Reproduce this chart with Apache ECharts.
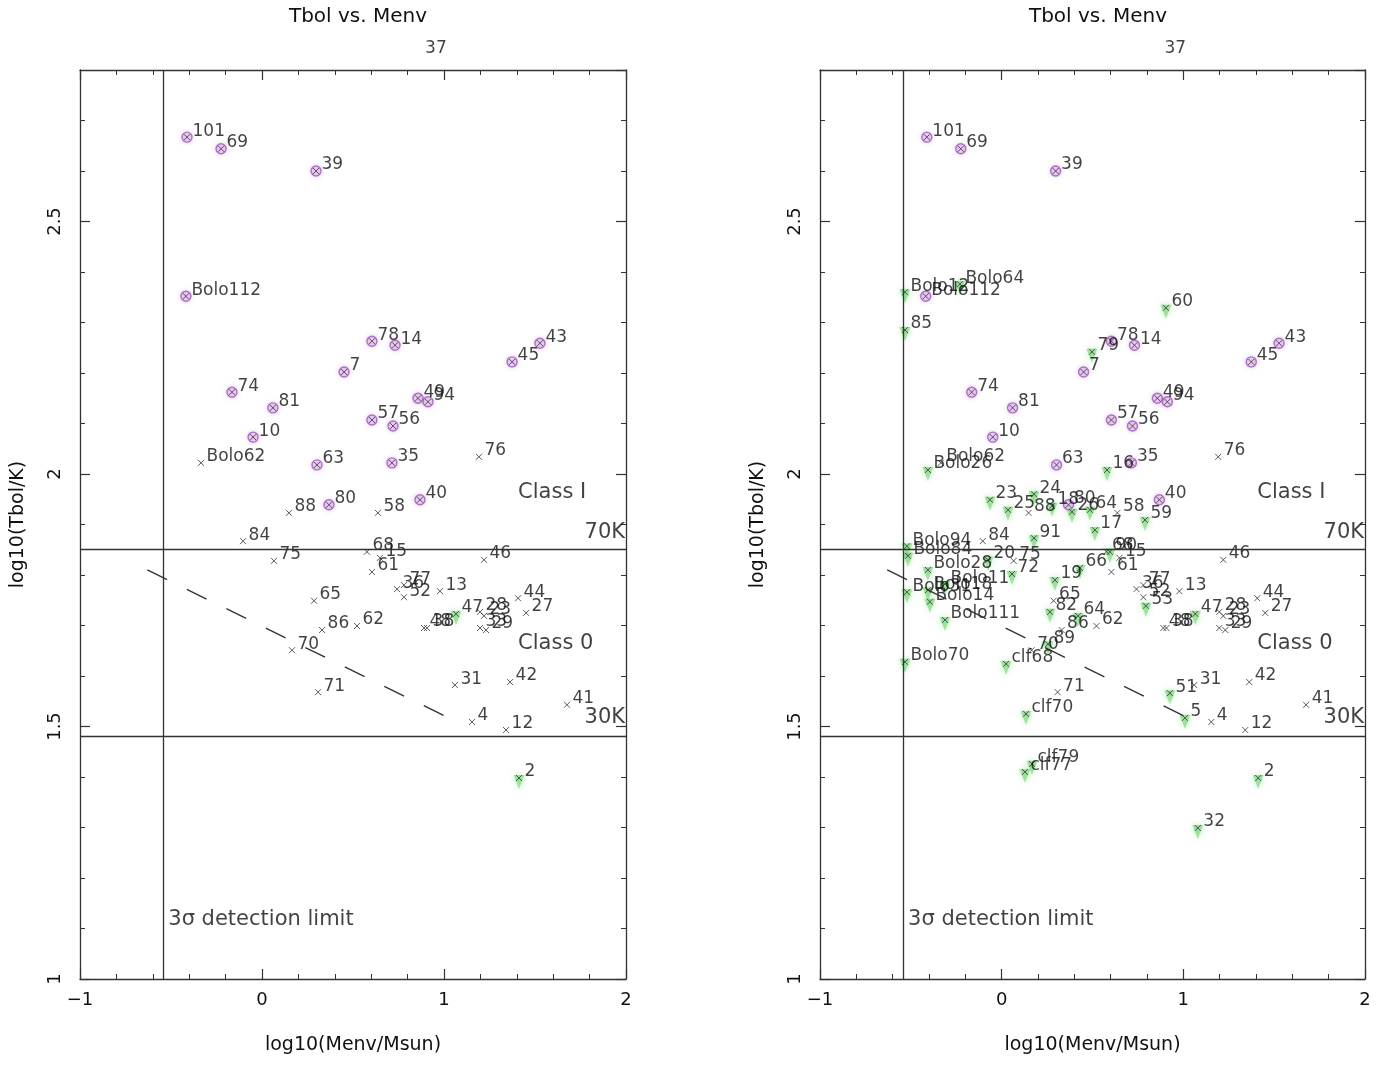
<!DOCTYPE html>
<html>
<head>
<meta charset="utf-8">
<script src="https://cdn.jsdelivr.net/npm/echarts@6/dist/echarts.min.js"></script>
<style>
  html, body { margin: 0; padding: 0; background: #fff; }
  #chart { width: 1395px; height: 1067px; }
</style>
</head>
<body>
<div id="chart"></div>
<script>
// Bolometric temperature vs. envelope mass, two panels.
// kind: 'p' = purple circled source, 'g' = green upper-limit triangle, 'c' = plain cross, 'o' = off-scale (label only)

const PANEL_TITLE = 'Tbol vs. Menv';
const X_NAME = 'log10(Menv/Msun)';
const Y_NAME = 'log10(Tbol/K)';
const X_RANGE = [-1, 2];
const Y_RANGE = [1, 2.8];

// Sources shown in both panels
const BASE_NAME = ['101','69','39','Bolo112','78','14','43','45','7','74','81','49','94','57','56','10',
  '76','Bolo62','63','35','40','80','88','58','84','75','68','15','61','46','36','77','52','13','65','44',
  '47','28','23','27','33','29','86','62','48','38','70','31','42','71','41','4','12','2','37'];
const BASE_X = [-0.412,-0.225,0.297,-0.418,0.604,0.731,1.527,1.374,0.451,-0.165,0.060,0.857,0.912,0.604,0.720,-0.049,
  1.192,-0.335,0.302,0.714,0.868,0.368,0.148,0.637,-0.104,0.066,0.577,0.648,0.604,1.220,0.742,0.780,0.780,0.978,0.286,1.407,
  1.066,1.198,1.220,1.451,1.198,1.231,0.330,0.522,0.890,0.907,0.165,1.060,1.363,0.308,1.676,1.154,1.341,1.412,0.896];
const BASE_Y = [2.667,2.644,2.600,2.352,2.263,2.255,2.259,2.222,2.202,2.162,2.131,2.150,2.143,2.107,2.095,2.073,
  2.034,2.022,2.018,2.022,1.949,1.939,1.923,1.923,1.867,1.828,1.846,1.834,1.806,1.830,1.772,1.780,1.756,1.768,1.749,1.754,
  1.723,1.727,1.719,1.725,1.695,1.691,1.691,1.699,1.695,1.695,1.651,1.582,1.588,1.568,1.543,1.509,1.493,1.398,2.830];
const BASE_KIND = ['p','p','p','p','p','p','p','p','p','p','p','p','p','p','p','p',
  'c','c','p','p','p','p','c','c','c','c','c','c','c','c','c','c','c','c','c','c',
  'g','c','c','c','c','c','c','c','c','c','c','c','c','c','c','c','c','g','o'];

// Additional sources in the right panel
const EXTRA_NAME = ['Bolo12','Bolo64','85','60','79','Bolo26','16','24','23','25','18','26','64','17','59','91','90',
  'Bolo94','Bolo84','Bolo28','20','72','Bolo11','Bolo31','Bolo18','Bolo14','Bolo111','19','66','82','64','89','53',
  '51','5','Bolo70','clf68','clf70','clf79','clf77','32'];
const EXTRA_X = [-0.532,-0.230,-0.532,0.904,0.497,-0.406,0.580,0.178,-0.064,0.035,0.277,0.387,0.486,0.513,0.789,0.178,0.596,
  -0.521,-0.516,-0.406,-0.075,0.057,-0.312,-0.521,-0.406,-0.395,-0.312,0.293,0.431,0.266,0.420,0.255,0.794,
  0.926,1.009,-0.532,0.024,0.134,0.167,0.128,1.080];
const EXTRA_Y = [2.360,2.376,2.285,2.329,2.242,2.008,2.008,1.960,1.949,1.929,1.937,1.925,1.929,1.889,1.909,1.873,1.846,
  1.857,1.838,1.810,1.830,1.802,1.782,1.766,1.770,1.747,1.711,1.790,1.814,1.727,1.719,1.663,1.739,
  1.566,1.517,1.628,1.624,1.525,1.426,1.410,1.299];
const EXTRA_KIND = EXTRA_NAME.map(() => 'g');

// Reference lines
const DETECTION_LIMIT_X = -0.535;
const T70 = Math.log10(70);
const T30 = Math.log10(30);
const DASH_LINE = [[-0.63, 1.81], [1.02, 1.518]];

// Annotations: [text, x, y, align]
const NOTES = [
  ['Class I', 1.407, 1.964, 'left'],
  ['Class 0', 1.407, 1.665, 'left'],
  ['70K', 1.995, 1.885, 'right'],
  ['30K', 1.995, 1.517, 'right'],
  ['3σ detection limit', -0.515, 1.117, 'left']
];

const FONT = 'DejaVu Sans';
const INK = '#111';
const LINE = '#333';

const GRIDS = [
  { left: 80, top: 70, width: 546, height: 909, cx: 353 },
  { left: 820, top: 70, width: 545, height: 909, cx: 1093 }
];

const xAxes = [], yAxes = [], series = [], titles = [];

GRIDS.forEach((g, gi) => {
  titles.push({
    text: PANEL_TITLE, left: g.cx, top: 2, textAlign: 'center',
    textStyle: { fontFamily: FONT, fontSize: 20, fontWeight: 'normal', color: INK }
  });
  const xBase = { gridIndex: gi, type: 'value', min: X_RANGE[0], max: X_RANGE[1], splitLine: { show: false } };
  const yBase = { gridIndex: gi, type: 'value', min: Y_RANGE[0], max: Y_RANGE[1], splitLine: { show: false } };
  const line = { show: true, onZero: false, lineStyle: { color: LINE, width: 1.3 } };
  const noLine = { show: false, onZero: false };
  const majorTick = { inside: true, length: 10, lineStyle: { color: LINE, width: 1.2 } };
  const minorTick = { inside: true, length: 5, lineStyle: { color: LINE, width: 1 } };
  // bottom major
  xAxes.push(Object.assign({}, xBase, {
    position: 'bottom', interval: 1, axisLine: line, axisTick: majorTick,
    axisLabel: { margin: 12, fontFamily: FONT, fontSize: 18, color: INK, formatter: v => v < 0 ? '\u2212' + Math.abs(v) : String(v) },
    name: X_NAME, nameLocation: 'middle', nameGap: 57,
    nameTextStyle: { fontFamily: FONT, fontSize: 19, color: INK }
  }));
  // bottom minor
  xAxes.push(Object.assign({}, xBase, {
    position: 'bottom', interval: 0.2, axisLine: noLine, axisTick: minorTick, axisLabel: { show: false }
  }));
  // top major
  xAxes.push(Object.assign({}, xBase, {
    position: 'top', interval: 1, axisLine: line, axisTick: majorTick, axisLabel: { show: false }
  }));
  // top minor
  xAxes.push(Object.assign({}, xBase, {
    position: 'top', interval: 0.2, axisLine: noLine, axisTick: minorTick, axisLabel: { show: false }
  }));
  // left major
  yAxes.push(Object.assign({}, yBase, {
    position: 'left', interval: 0.5, axisLine: line, axisTick: majorTick,
    axisLabel: { margin: 16, rotate: 90, fontFamily: FONT, fontSize: 18, color: INK, showMaxLabel: false },
    name: Y_NAME, nameLocation: 'middle', nameGap: 52, nameRotate: 90,
    nameTextStyle: { fontFamily: FONT, fontSize: 19, color: INK }
  }));
  // left minor
  yAxes.push(Object.assign({}, yBase, {
    position: 'left', interval: 0.1, axisLine: noLine, axisTick: minorTick, axisLabel: { show: false }
  }));
  // right major
  yAxes.push(Object.assign({}, yBase, {
    position: 'right', interval: 0.5, axisLine: line, axisTick: majorTick, axisLabel: { show: false }
  }));
  // right minor
  yAxes.push(Object.assign({}, yBase, {
    position: 'right', interval: 0.1, axisLine: noLine, axisTick: minorTick, axisLabel: { show: false }
  }));
});

function buildPanel(gi, names, xs, ys, kinds) {
  const xi = gi * 4, yi = gi * 4;
  const pts = names.map((n, i) => ({ name: n, value: [xs[i], ys[i]], kind: kinds[i] }));
  const inScale = pts.filter(p => p.kind !== 'o');
  // purple rings
  series.push({
    type: 'scatter', xAxisIndex: xi, yAxisIndex: yi, z: 2, silent: true,
    symbol: 'circle', symbolSize: 10,
    itemStyle: { color: 'rgba(200,140,220,0.3)', borderColor: 'rgba(150,60,180,0.85)', borderWidth: 1.4,
      shadowBlur: 4, shadowColor: 'rgba(170,90,200,0.6)' },
    data: inScale.filter(p => p.kind === 'p').map(p => ({ name: p.name, value: p.value }))
  });
  // green upper-limit triangles
  series.push({
    type: 'scatter', xAxisIndex: xi, yAxisIndex: yi, z: 2, silent: true,
    symbol: 'triangle', symbolRotate: 180, symbolSize: [11, 14], symbolOffset: [0, 4],
    itemStyle: { color: 'rgba(80,205,80,0.6)', shadowBlur: 6, shadowColor: 'rgba(80,205,80,0.7)' },
    data: inScale.filter(p => p.kind === 'g').map(p => ({ name: p.name, value: p.value }))
  });
  // crosses + labels
  series.push({
    type: 'scatter', xAxisIndex: xi, yAxisIndex: yi, z: 3, silent: true,
    symbol: 'path://M0,0L10,10M10,0L0,10', symbolSize: 6,
    itemStyle: { color: 'none', borderColor: '#333', borderWidth: 1 },
    label: { show: true, position: 'right', distance: 0, offset: [0, -6], formatter: '{b}',
      fontFamily: FONT, fontSize: 17, color: INK },
    data: inScale.map(p => ({ name: p.name, value: p.value }))
  });
  // off-scale sources: label only
  series.push({
    type: 'scatter', xAxisIndex: xi, yAxisIndex: yi, z: 3, silent: true, clip: false,
    symbolSize: 0,
    label: { show: true, position: 'right', distance: 0, offset: [0, -6], formatter: '{b}',
      fontFamily: FONT, fontSize: 17, color: INK },
    data: pts.filter(p => p.kind === 'o').map(p => ({ name: p.name, value: p.value }))
  });
  // reference lines and annotations
  series.push({
    type: 'scatter', xAxisIndex: xi, yAxisIndex: yi, z: 1, silent: true, symbolSize: 0,
    label: { show: true, position: 'inside', formatter: '{b}', fontFamily: FONT, fontSize: 21, color: INK },
    data: NOTES.map(n => ({ name: n[0], value: [n[1], n[2]], label: { align: n[3], verticalAlign: 'middle' } })),
    markLine: {
      silent: true, symbol: 'none', label: { show: false }, animation: false,
      lineStyle: { color: LINE, width: 1.3, type: 'solid' },
      data: [
        { xAxis: DETECTION_LIMIT_X },
        { yAxis: T70 },
        { yAxis: T30 },
        [ { coord: DASH_LINE[0], lineStyle: { type: [22, 22], width: 1.4 } }, { coord: DASH_LINE[1] } ]
      ]
    }
  });
}

buildPanel(0, BASE_NAME, BASE_X, BASE_Y, BASE_KIND);
buildPanel(1, BASE_NAME.concat(EXTRA_NAME), BASE_X.concat(EXTRA_X), BASE_Y.concat(EXTRA_Y), BASE_KIND.concat(EXTRA_KIND));

const chart = echarts.init(document.getElementById('chart'), null, { renderer: 'canvas' });
chart.setOption({
  backgroundColor: '#ffffff',
  animation: false,
  title: titles,
  grid: GRIDS.map(g => ({ left: g.left, top: g.top, width: g.width, height: g.height, containLabel: false })),
  xAxis: xAxes,
  yAxis: yAxes,
  series: series
});
</script>
</body>
</html>
